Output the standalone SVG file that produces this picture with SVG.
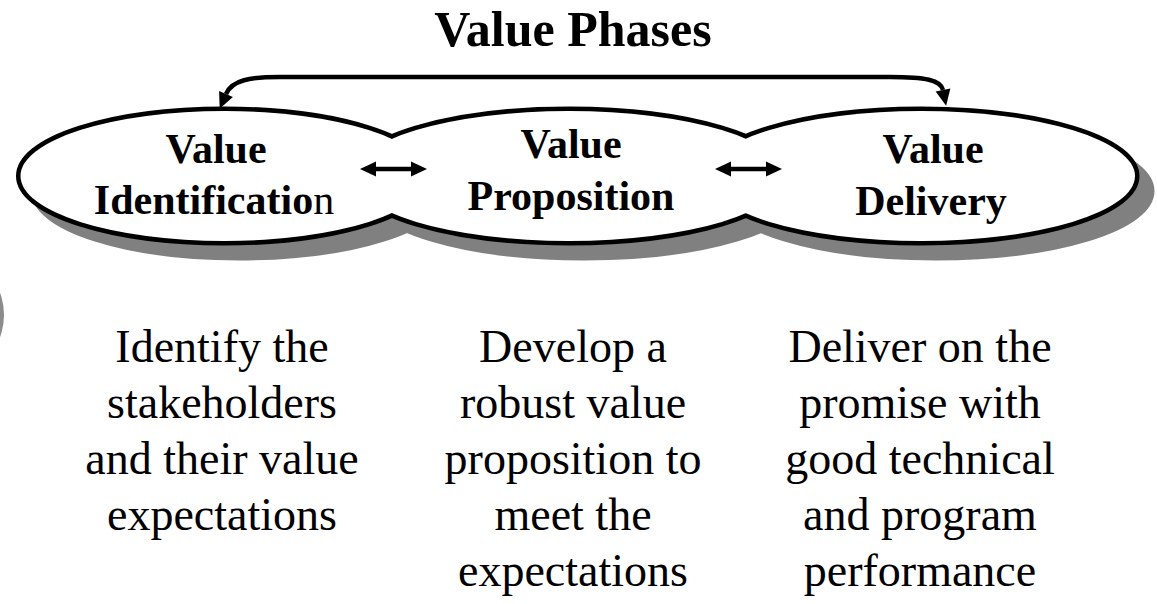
<svg xmlns="http://www.w3.org/2000/svg" width="1157" height="604" viewBox="0 0 1157 604">
  <style>
    .shadow { fill: #808080; stroke: #808080; stroke-width: 9; }
    .outline { fill: #000; stroke: #000; stroke-width: 9; }
    .fill { fill: #fff; stroke: none; }
    .label { font-family: "Liberation Serif", "Times New Roman", serif; font-weight: bold; font-size: 42px; fill: #000; text-anchor: middle; }
    .title { font-family: "Liberation Serif", "Times New Roman", serif; font-weight: bold; font-size: 50px; fill: #000; text-anchor: middle; }
    .desc { font-family: "Liberation Serif", "Times New Roman", serif; font-size: 46px; fill: #000; text-anchor: middle; }
    .conn { fill: none; stroke: #000; stroke-width: 4.5; }
  </style>
  <defs>
    <marker id="head" markerUnits="userSpaceOnUse" markerWidth="17" markerHeight="15" refX="0" refY="7.5" orient="auto-start-reverse" overflow="visible">
      <path d="M0,0 L16,7.5 L0,15 z" fill="#000"/>
    </marker>
  </defs>
  <rect width="1157" height="604" fill="#fff"/>

  <!-- partial gray shape at left edge -->
  <ellipse cx="-30" cy="315" rx="34" ry="47" fill="#8c8c8c"/>

  <text class="title" x="573" y="46">Value Phases</text>

  <!-- shadows -->
  <g id="shadows">
    <ellipse class="shadow" cx="239.5" cy="191" rx="204" ry="65"/>
    <ellipse class="shadow" cx="584" cy="191" rx="216" ry="65"/>
    <ellipse class="shadow" cx="936" cy="191" rx="214" ry="65"/>
  </g>
  <!-- outlines -->
  <g id="outlines">
    <ellipse class="outline" cx="224.5" cy="176" rx="204" ry="65"/>
    <ellipse class="outline" cx="569" cy="176" rx="216" ry="65"/>
    <ellipse class="outline" cx="921" cy="176" rx="214" ry="65"/>
  </g>

  <g id="node-identification">
    <ellipse class="fill" cx="224.5" cy="176" rx="204" ry="65"/>
  </g>
  <g id="node-proposition">
    <ellipse class="fill" cx="569" cy="176" rx="216" ry="65"/>
  </g>
  <g id="node-delivery">
    <ellipse class="fill" cx="921" cy="176" rx="214" ry="65"/>
  </g>

  <g id="labels">
    <text class="label" x="216" y="163">Value</text>
    <text class="label" x="214" y="214">Identificatio<tspan font-weight="normal">n</tspan></text>
    <text class="label" x="571" y="158">Value</text>
    <text class="label" x="571" y="210">Proposition</text>
    <text class="label" x="933" y="163">Value</text>
    <text class="label" x="931" y="215">Delivery</text>
  </g>

  <g id="connectors">
    <path class="conn" d="M226,94 C232,80 250,77 280,77 L890,77 C925,77 941,80 943,90" marker-start="url(#head)" marker-end="url(#head)"/>
    <path class="conn" d="M376,169 L411,169" marker-start="url(#head)" marker-end="url(#head)"/>
    <path class="conn" d="M731,169 L766,169" marker-start="url(#head)" marker-end="url(#head)"/>
  </g>

  <g id="descriptions">
    <text class="desc" x="222" y="362">Identify the</text>
    <text class="desc" x="222" y="418">stakeholders</text>
    <text class="desc" x="222" y="474">and their value</text>
    <text class="desc" x="222" y="530">expectations</text>

    <text class="desc" x="573" y="362">Develop a</text>
    <text class="desc" x="573" y="418">robust value</text>
    <text class="desc" x="573" y="474">proposition to</text>
    <text class="desc" x="573" y="530">meet the</text>
    <text class="desc" x="573" y="586">expectations</text>

    <text class="desc" x="920" y="362">Deliver on the</text>
    <text class="desc" x="920" y="418">promise with</text>
    <text class="desc" x="920" y="474">good technical</text>
    <text class="desc" x="920" y="530">and program</text>
    <text class="desc" x="920" y="586">performance</text>
  </g>
</svg>
